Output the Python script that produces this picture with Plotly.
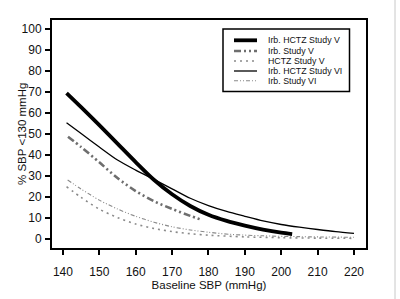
import plotly.graph_objects as go

# ---- data ----
sbp_irb_hctz_v = [141, 145, 150, 155, 160, 165, 170, 175, 180, 185, 190, 195, 200, 203]
pct_irb_hctz_v = [69.5, 62.8, 54.2, 45.4, 36.6, 28.2, 21.3, 15.7, 11.5, 8.6, 6.4, 4.5, 3.0, 2.3]

sbp_irb_v = [141.4, 145, 150, 155, 160, 165, 170, 175, 178]
pct_irb_v = [48.7, 43.8, 36.5, 29.0, 22.8, 18.0, 14.3, 11.0, 9.2]

sbp_hctz_v = [141, 145, 150, 155, 160, 165, 170, 175, 180, 190, 200, 210, 220]
pct_hctz_v = [24.9, 19.8, 14.2, 10.2, 7.1, 5.0, 3.5, 2.5, 1.8, 1.0, 0.6, 0.4, 0.3]

sbp_irb_hctz_vi = [141, 145, 150, 155, 160, 165, 170, 175, 180, 185, 190, 195, 200, 205, 210, 215, 220]
pct_irb_hctz_vi = [55.4, 50.2, 43.8, 37.6, 32.8, 28.4, 23.9, 19.4, 15.9, 13.1, 10.8, 8.6, 6.9, 5.6, 4.5, 3.5, 2.7]

sbp_irb_vi = [141.3, 145, 150, 155, 160, 165, 170, 175, 180, 186, 195, 205, 220]
pct_irb_vi = [28.1, 23.8, 18.5, 14.3, 10.8, 8.0, 5.8, 4.3, 3.2, 2.2, 1.5, 1.1, 0.8]

series_names = ["Irb. HCTZ Study V", "Irb. Study V", "HCTZ Study V",
                "Irb. HCTZ Study VI", "Irb. Study VI"]
x_ticks = [140, 150, 160, 170, 180, 190, 200, 210, 220]
y_ticks = [0, 10, 20, 30, 40, 50, 60, 70, 80, 90, 100]
x_title = "Baseline SBP (mmHg)"
y_title = "% SBP <130 mmHg"

styles = [
    dict(color="black", width=3.8, dash="solid"),
    dict(color="#6e6e6e", width=2.6, dash="7px,3px,2px,3px,2px,3px"),
    dict(color="#8a8a8a", width=1.6, dash="2px,4px"),
    dict(color="black", width=1.3, dash="solid"),
    dict(color="#8a8a8a", width=1.1, dash="4px,2px,1px,2px,1px,2px"),
]
xs = [sbp_irb_hctz_v, sbp_irb_v, sbp_hctz_v, sbp_irb_hctz_vi, sbp_irb_vi]
ys = [pct_irb_hctz_v, pct_irb_v, pct_hctz_v, pct_irb_hctz_vi, pct_irb_vi]

fig = go.Figure()
for name, x, y, st in zip(series_names, xs, ys, styles):
    fig.add_trace(go.Scatter(x=x, y=y, mode="lines", name=name,
                             line=dict(shape="spline", smoothing=0.8, **st),
                             showlegend=False))

# plot area in pixels: left 52, right 366, top 20, bottom 248
L, R, T, B = 52, 366, 20, 248
def px(xp):
    return (xp - L) / (R - L)
def py(yp):
    return (B - yp) / (B - T)

shapes = []
annotations = []
# legend box
shapes.append(dict(type="rect", xref="paper", yref="paper",
                   x0=px(223), x1=px(349.5), y0=py(91.5), y1=py(29),
                   line=dict(color="black", width=1.5), fillcolor="white", layer="above"))
rows = [40.3, 51, 61, 71, 80.7]
for name, st, ry in zip(series_names, styles, rows):
    shapes.append(dict(type="line", xref="paper", yref="paper",
                       x0=px(234), x1=px(257), y0=py(ry), y1=py(ry),
                       line=dict(color=st["color"], width=st["width"], dash=st["dash"]),
                       layer="above"))
    annotations.append(dict(text=name, xref="paper", yref="paper",
                            x=px(266), y=py(ry), xanchor="left", yanchor="middle",
                            showarrow=False, font=dict(size=8.8, color="#111")))
# y-axis title placed as rotated text
annotations.append(dict(text=y_title, xref="paper", yref="paper",
                        x=px(22), y=0.5, xanchor="center", yanchor="middle",
                        textangle=-90, showarrow=False,
                        font=dict(size=11.5, color="#111")))
# faint right border of the original image
shapes.append(dict(type="line", xref="paper", yref="paper",
                   x0=px(395), x1=px(395), y0=py(299), y1=py(0),
                   line=dict(color="#c8c8c8", width=1)))

fig.update_layout(
    width=400, height=299,
    margin=dict(l=L, r=400 - R, t=T, b=299 - B),
    paper_bgcolor="white", plot_bgcolor="white",
    font=dict(family="Liberation Sans, Arial, sans-serif", color="#111", size=12),
    shapes=shapes, annotations=annotations,
    xaxis=dict(range=[137, 223.3], tickvals=x_ticks, ticks="outside", ticklen=5,
               tickwidth=2, tickcolor="black", showline=True, linecolor="black",
               linewidth=2, mirror=True, showgrid=False, zeroline=False,
               tickfont=dict(size=12), ticklabelstandoff=7,
               title=dict(text=x_title, standoff=1, font=dict(size=11.5))),
    yaxis=dict(range=[-4.3, 104.3], tickvals=y_ticks, ticks="outside", ticklen=5,
               tickwidth=2, tickcolor="black", showline=True, linecolor="black",
               linewidth=2, mirror=True, showgrid=False, zeroline=False,
               tickfont=dict(size=12), ticklabelstandoff=1),
)

fig.write_html("out.html")
